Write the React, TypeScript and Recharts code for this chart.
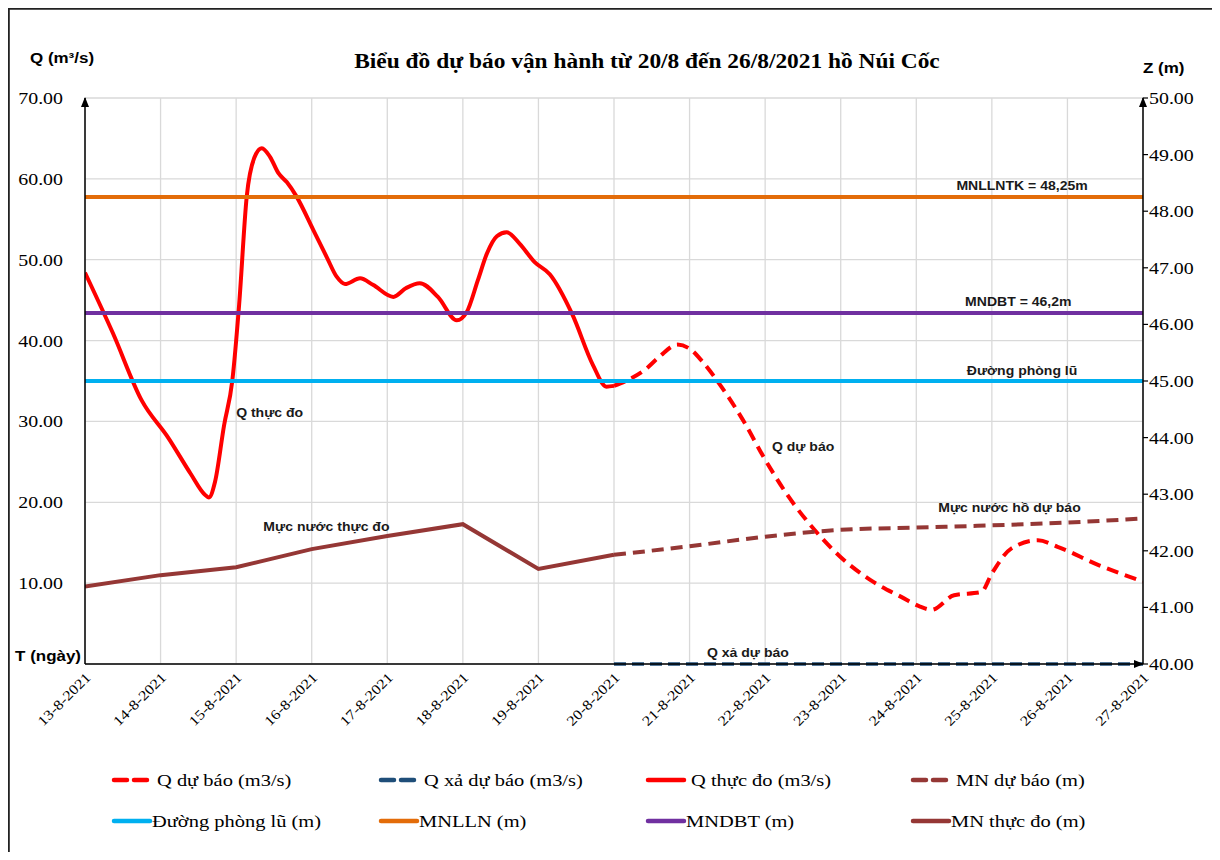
import React from 'react';
import { ComposedChart, Line, XAxis, YAxis, CartesianGrid, Legend, ReferenceDot } from 'recharts';

// ---------- data ----------
const DATE_LABELS = [
  '13-8-2021', '14-8-2021', '15-8-2021', '16-8-2021', '17-8-2021', '18-8-2021', '19-8-2021',
  '20-8-2021', '21-8-2021', '22-8-2021', '23-8-2021', '24-8-2021', '25-8-2021', '26-8-2021', '27-8-2021',
];
const X_TICKS = DATE_LABELS.map((_, i) => i);
const Q_TICKS = [0, 10, 20, 30, 40, 50, 60, 70];
const Z_TICKS = [40, 41, 42, 43, 44, 45, 46, 47, 48, 49, 50];

// Q thực đo (m3/s) – day offset from 13-8-2021
const Q_OBS_DAY = [0, 0.37, 0.75, 1.1, 1.4, 1.58, 1.64, 1.72, 1.84, 1.95, 2.04, 2.14, 2.24, 2.34, 2.45, 2.56, 2.67, 2.8, 3.02, 3.2, 3.33, 3.44, 3.64, 3.81, 4.08, 4.25, 4.43, 4.67, 4.92, 5.05, 5.2, 5.32, 5.45, 5.58, 5.75, 5.95, 6.15, 6.45, 6.72, 6.9, 7.0];
const Q_OBS_VAL = [48.4, 40.9, 32.6, 28.0, 23.5, 21.0, 20.6, 22.5, 29.5, 35.1, 44.5, 57.8, 62.6, 63.8, 62.7, 60.7, 59.6, 57.8, 53.7, 50.3, 47.9, 47.0, 47.7, 46.9, 45.4, 46.5, 47.1, 45.4, 42.5, 43.5, 47.5, 50.8, 52.9, 53.4, 52.0, 49.7, 48.2, 43.2, 37.0, 34.3, 34.4];

// Q dự báo (m3/s)
const Q_FC_DAY = [7.0, 7.2, 7.41, 7.6, 7.84, 8.0, 8.17, 8.42, 8.73, 8.98, 9.28, 9.69, 9.99, 10.39, 10.8, 11.05, 11.2, 11.5, 11.86, 12.0, 12.26, 12.61, 12.87, 13.42, 14.0];
const Q_FC_VAL = [34.4, 35.2, 36.4, 38.0, 39.5, 39.0, 37.4, 34.3, 29.8, 25.6, 21.1, 16.2, 13.3, 10.4, 8.3, 7.1, 6.7, 8.5, 8.9, 11.2, 14.3, 15.3, 14.5, 12.2, 10.2];

// Q xả dự báo (m3/s)
const Q_REL_DAY = [7, 8, 9, 10, 11, 12, 13, 14];
const Q_REL_VAL = [0, 0, 0, 0, 0, 0, 0, 0];

// Mực nước thực đo (m)
const MN_OBS_DAY = [0, 1, 2, 3, 4, 5, 6, 7];
const MN_OBS_VAL = [41.37, 41.57, 41.71, 42.03, 42.26, 42.47, 41.68, 41.93];

// Mực nước dự báo (m)
const MN_FC_DAY = [7, 8, 9, 10, 11, 12, 13, 14];
const MN_FC_VAL = [41.93, 42.08, 42.25, 42.37, 42.41, 42.45, 42.50, 42.57];

// Horizontal levels (m)
const LEVEL_DAYS = [0, 14];
const FLOOD_LEVEL = 45.0;
const MNLLN_LEVEL = 48.25;
const MNDBT_LEVEL = 46.2;

const TITLE = 'Biểu đồ dự báo vận hành từ 20/8 đến 26/8/2021 hồ Núi Cốc';

// annotations (text, day, Q-axis value, anchor)
const NOTES = [
  { text: 'Q thực đo', d: 2.0, q: 30.6, anchor: 'start' },
  { text: 'Mực nước thực đo', d: 2.36, q: 16.5, anchor: 'start' },
  { text: 'MNLLNTK = 48,25m', d: 12.4, q: 58.6, anchor: 'middle' },
  { text: 'MNDBT = 46,2m', d: 12.35, q: 44.3, anchor: 'middle' },
  { text: 'Đường phòng lũ', d: 12.4, q: 35.7, anchor: 'middle' },
  { text: 'Q dự báo', d: 9.09, q: 26.3, anchor: 'start' },
  { text: 'Mực nước hồ dự báo', d: 11.29, q: 18.8, anchor: 'start' },
  { text: 'Q xả dự báo', d: 8.23, q: 0.9, anchor: 'start' },
];

const zip = (days: number[], vals: number[]) => days.map((d, i) => ({ d, v: vals[i] }));
const level = (v: number) => LEVEL_DAYS.map((d) => ({ d, v }));

// ---------- styles ----------
const SX = 1.17;
const SERIF = "'Liberation Serif','Times New Roman',serif";
const SANS = "'Liberation Sans',Arial,sans-serif";
const RED = '#FF0000';
const NAVY = '#1F4E79';
const BROWN = '#953735';
const CYAN = '#00B0F0';
const ORANGE = '#E36C09';
const PURPLE = '#7030A0';
const GRID = '#D9D9D9';

const LEGEND_ITEMS = [
  { name: 'Q dự báo (m3/s)', color: RED, dash: true },
  { name: 'Q xả dự báo (m3/s)', color: NAVY, dash: true },
  { name: 'Q thực đo (m3/s)', color: RED, dash: false },
  { name: 'MN dự báo (m)', color: BROWN, dash: true },
  { name: 'Đường phòng lũ (m)', color: CYAN, dash: false },
  { name: 'MNLLN (m)', color: ORANGE, dash: false },
  { name: 'MNDBT (m)', color: PURPLE, dash: false },
  { name: 'MN thực đo (m)', color: BROWN, dash: false },
];
const LEGEND_COLS = [106, 373, 640, 905];

function SText(props: any) {
  const { x, y, text, size, font, bold, anchor = 'start', fill = '#000', rotate = 0, dy } = props;
  return (
    <text
      transform={`translate(${x},${y}) rotate(${rotate}) scale(${SX},1)`}
      x={0}
      y={0}
      dy={dy}
      textAnchor={anchor}
      fontSize={size}
      fontFamily={font}
      fontWeight={bold ? 'bold' : 'normal'}
      fill={fill}
    >
      {text}
    </text>
  );
}

const XTick = (p: any) => (
  <SText x={p.x + 3} y={p.y + 3} rotate={-45} anchor="end" dy="0.35em" size={14} font={SERIF} text={DATE_LABELS[p.payload.value]} />
);

const LeftTick = (p: any) =>
  p.payload.value === 0 ? (
    <SText x={p.x + 4} y={p.y - 3} anchor="end" size={14.5} font={SANS} bold text="T (ngày)" />
  ) : (
    <SText x={p.x - 14} y={p.y} anchor="end" dy="0.35em" size={17} font={SERIF} text={p.payload.value.toFixed(2)} />
  );

const RightTick = (p: any) => (
  <SText x={p.x - 1} y={p.y} anchor="start" dy="0.35em" size={17} font={SERIF} text={p.payload.value.toFixed(2)} />
);

const arrowUp = (p: any) => (
  <polygon points={`${p.cx - 4},${p.cy + 9} ${p.cx + 4},${p.cy + 9} ${p.cx},${p.cy - 1}`} fill="#000" />
);
const arrowRight = (p: any) => (
  <polygon points={`${p.cx - 9},${p.cy - 4} ${p.cx - 9},${p.cy + 4} ${p.cx + 1},${p.cy}`} fill="#000" />
);

const LegendContent = () => (
  <svg width={1208} height={92}>
    {LEGEND_ITEMS.map((it, i) => {
      const col = i % 4;
      const row = Math.floor(i / 4);
      const x0 = LEGEND_COLS[col];
      const cy = 20 + row * 41;
      return (
        <g key={it.name}>
          <line
            x1={x0}
            x2={x0 + (it.dash ? 33 : 36)}
            y1={cy}
            y2={cy}
            stroke={it.color}
            strokeWidth={4.5}
            strokeDasharray={it.dash ? '13 7' : undefined}
            strokeLinecap="round"
          />
          <SText x={x0 + (row === 0 ? 43 : 38)} y={cy} dy="0.35em" size={17.5} font={SERIF} text={it.name} />
        </g>
      );
    })}
  </svg>
);

export default function App() {
  return (
    <div style={{ position: 'relative', width: 1208, height: 844 }}>
      <ComposedChart width={1208} height={844} margin={{ top: 90, right: 8, left: 17, bottom: 26 }}>
        <CartesianGrid yAxisId="q" stroke={GRID} strokeWidth={1.3} />
        <XAxis
          type="number"
          dataKey="d"
          domain={[0, 14]}
          ticks={X_TICKS}
          interval={0}
          height={70}
          tickLine={false}
          axisLine={{ stroke: '#000', strokeWidth: 1.5 }}
          tick={<XTick />}
          allowDataOverflow
        />
        <YAxis
          yAxisId="q"
          domain={[0, 70]}
          ticks={Q_TICKS}
          interval={0}
          width={60}
          tickLine={false}
          axisLine={{ stroke: '#000', strokeWidth: 1.5 }}
          tick={<LeftTick />}
        />
        <YAxis
          yAxisId="z"
          orientation="right"
          domain={[40, 50]}
          ticks={Z_TICKS}
          interval={0}
          width={65}
          tickSize={5}
          tickLine={{ stroke: '#000', strokeWidth: 1.2 }}
          axisLine={{ stroke: '#000', strokeWidth: 1.5 }}
          tick={<RightTick />}
        />
        <Legend
          verticalAlign="bottom"
          height={92}
          wrapperStyle={{ top: 752, left: 0, bottom: 'auto', width: 1208, height: 92 }}
          content={<LegendContent />}
        />

        <Line yAxisId="q" data={zip(Q_FC_DAY, Q_FC_VAL)} dataKey="v" name="Q dự báo (m3/s)" type="monotone" stroke={RED} strokeWidth={4} strokeDasharray="12 7" dot={false} isAnimationActive={false} />
        <Line yAxisId="q" data={zip(Q_REL_DAY, Q_REL_VAL)} dataKey="v" name="Q xả dự báo (m3/s)" type="linear" stroke={NAVY} strokeWidth={3.5} strokeDasharray="12 6" dot={false} isAnimationActive={false} />
        <Line yAxisId="q" data={zip(Q_OBS_DAY, Q_OBS_VAL)} dataKey="v" name="Q thực đo (m3/s)" type="monotone" stroke={RED} strokeWidth={4} dot={false} isAnimationActive={false} />
        <Line yAxisId="z" data={zip(MN_FC_DAY, MN_FC_VAL)} dataKey="v" name="MN dự báo (m)" type="monotone" stroke={BROWN} strokeWidth={4} strokeDasharray="12 7" dot={false} isAnimationActive={false} />
        <Line yAxisId="z" data={level(FLOOD_LEVEL)} dataKey="v" name="Đường phòng lũ (m)" type="linear" stroke={CYAN} strokeWidth={4} dot={false} isAnimationActive={false} />
        <Line yAxisId="z" data={level(MNLLN_LEVEL)} dataKey="v" name="MNLLN (m)" type="linear" stroke={ORANGE} strokeWidth={4} dot={false} isAnimationActive={false} />
        <Line yAxisId="z" data={level(MNDBT_LEVEL)} dataKey="v" name="MNDBT (m)" type="linear" stroke={PURPLE} strokeWidth={4} dot={false} isAnimationActive={false} />
        <Line yAxisId="z" data={zip(MN_OBS_DAY, MN_OBS_VAL)} dataKey="v" name="MN thực đo (m)" type="linear" stroke={BROWN} strokeWidth={4} dot={false} isAnimationActive={false} />

        <ReferenceDot yAxisId="q" x={0} y={70} r={0} ifOverflow="visible" shape={arrowUp} />
        <ReferenceDot yAxisId="z" x={14} y={50} r={0} ifOverflow="visible" shape={arrowUp} />
        <ReferenceDot yAxisId="q" x={14} y={0} r={0} ifOverflow="visible" shape={arrowRight} />

        {NOTES.map((n) => (
          <ReferenceDot
            key={n.text}
            yAxisId="q"
            x={n.d}
            y={n.q}
            r={0}
            ifOverflow="visible"
            shape={(p: any) => <SText x={p.cx} y={p.cy} anchor={n.anchor} size={12} font={SANS} bold fill="#1a1a1a" text={n.text} />}
          />
        ))}

        <path d="M0.9,844 L0.9,0.9 L1207.1,0.9 L1207.1,844" fill="none" stroke="#222" strokeWidth={1.8} />
        <SText x={639} y={60} anchor="middle" size={20} font={SERIF} bold text={TITLE} />
        <SText x={22} y={55} anchor="start" size={14.5} font={SANS} bold text="Q (m³/s)" />
        <SText x={1135} y={65} anchor="start" size={14.5} font={SANS} bold text="Z (m)" />
      </ComposedChart>
    </div>
  );
}
